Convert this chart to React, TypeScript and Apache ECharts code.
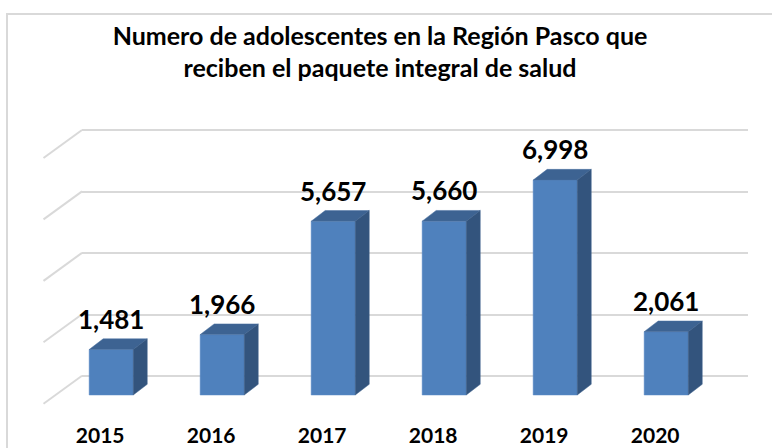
import React, { useEffect, useRef } from "react";
import * as echarts from "echarts";

const categories = ["2015", "2016", "2017", "2018", "2019", "2020"];
const values = [1481, 1966, 5657, 5660, 6998, 2061];
const gridTicks = [0, 2000, 4000, 6000, 8000];
const titleLines = ["Numero de adolescentes en la Región Pasco que", "reciben el paquete integral de salud"];

const FONT = "Lato";

export default function App() {
  const ref = useRef<HTMLDivElement>(null);
  useEffect(() => {
    document.body.style.margin = "0";
    const chart = echarts.init(ref.current!, null, { renderer: "svg" });
    const FDX = -26.3; // front face offset from back wall
    const FDY = 19.3;
    const DX = 14; // bar depth
    const DY = -10.7;
    const fmt = (v: number) => v.toLocaleString("en-US");
    chart.setOption({
      animation: false,
      backgroundColor: "#ffffff",
      title: {
        text: titleLines.join("\n"),
        left: 375,
        top: 14,
        padding: 5,
        textAlign: "center",
        textStyle: { fontFamily: FONT, fontWeight: "bold", fontSize: 25, lineHeight: 32, color: "#000" },
      },
      graphic: [
        {
          type: "rect",
          shape: { x: 7, y: 14, width: 800, height: 480 },
          style: { fill: "none", stroke: "#d9d9d9", lineWidth: 2 },
          silent: true,
          z: -10,
        },
      ],
      grid: { left: 82, right: 24, top: 130, bottom: 72.3 },
      xAxis: {
        type: "category",
        data: categories,
        axisLine: { show: false },
        axisTick: { show: false },
        axisLabel: { show: false },
      },
      yAxis: {
        type: "value",
        min: 0,
        max: 8000,
        interval: 2000,
        axisLabel: { show: false },
        axisLine: { show: false },
        axisTick: { show: false },
        splitLine: { lineStyle: { color: "#d9d9d9", width: 2 } },
      },
      series: [
        {
          type: "custom",
          data: gridTicks.map((t) => [0, t]),
          z: 1,
          renderItem: (params: any, api: any) => {
            const y = api.coord([0, api.value(1)])[1];
            const x0 = params.coordSys.x;
            return {
              type: "line",
              shape: { x1: x0, y1: y, x2: x0 - 38.5, y2: y + 28 },
              style: { stroke: "#d9d9d9", lineWidth: 2 },
            };
          },
        },
        {
          type: "custom",
          data: values.map((v, i) => [i, v]),
          z: 5,
          renderItem: (params: any, api: any) => {
            const i = api.value(0);
            const v = api.value(1);
            const top = api.coord([i, v]);
            const base = api.coord([i, 0]);
            const band = api.size([1, 0])[0];
            const w = band * 0.397;
            const cx = top[0] + FDX;
            const x1 = cx - w / 2;
            const x2 = cx + w / 2;
            const yt = top[1] + FDY;
            const yb = base[1] + FDY;
            return {
              type: "group",
              children: [
                {
                  type: "rect",
                  shape: { x: x1, y: yt, width: w, height: yb - yt },
                  style: { fill: "#4f81bd", stroke: "#5b8bc6", lineWidth: 0.5 },
                },
                {
                  type: "polygon",
                  shape: { points: [[x1, yt], [x2, yt], [x2 + DX, yt + DY], [x1 + DX, yt + DY]] },
                  style: { fill: "#3d6392", stroke: "#4a70a0", lineWidth: 0.5 },
                },
                {
                  type: "polygon",
                  shape: { points: [[x2, yt], [x2 + DX, yt + DY], [x2 + DX, yb + DY], [x2, yb]] },
                  style: { fill: "#33547d", stroke: "#3b5e8a", lineWidth: 0.5 },
                },
                {
                  type: "text",
                  style: {
                    x: cx,
                    y: yt + DY - 7,
                    text: fmt(v),
                    align: "center",
                    verticalAlign: "bottom",
                    fontFamily: FONT,
                    fontWeight: "bold",
                    fontSize: 26,
                    fill: "#000",
                  },
                },
                {
                  type: "text",
                  style: {
                    x: cx - 11,
                    y: base[1] + 59,
                    text: categories[i],
                    align: "center",
                    verticalAlign: "middle",
                    fontFamily: FONT,
                    fontWeight: "bold",
                    fontSize: 21,
                    fill: "#000",
                  },
                },
              ],
            };
          },
        },
      ],
    });
    return () => chart.dispose();
  }, []);
  return <div ref={ref} style={{ width: 772, height: 448 }} />;
}
